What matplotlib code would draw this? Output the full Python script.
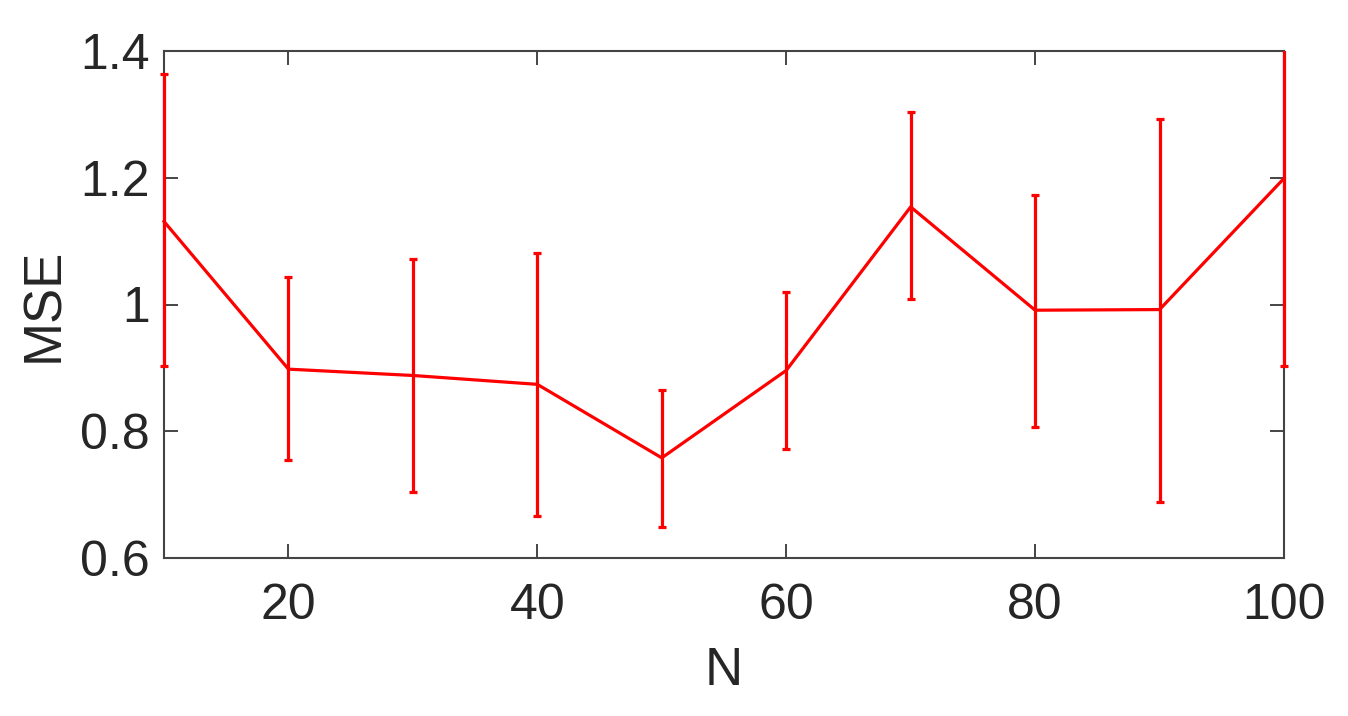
import matplotlib
matplotlib.use("Agg")
import matplotlib.pyplot as plt
from matplotlib.transforms import Bbox, TransformedBbox
import numpy as np

N = [10, 20, 30, 40, 50, 60, 70, 80, 90, 100]
mse = [1.131, 0.898, 0.888, 0.874, 0.758, 0.896, 1.154, 0.991, 0.992, 1.199]
upper = [1.363, 1.043, 1.072, 1.082, 0.865, 1.019, 1.303, 1.172, 1.293, 1.496]
lower = [0.903, 0.754, 0.704, 0.667, 0.649, 0.772, 1.009, 0.807, 0.688, 0.903]
xticks = [20, 40, 60, 80, 100]
yticks = [0.6, 0.8, 1.0, 1.2, 1.4]
yticklabels = ["0.6", "0.8", "1", "1.2", "1.4"]

plt.rcParams['font.family'] = ['Liberation Sans', 'DejaVu Sans']

fig = plt.figure(figsize=(13.48, 7.16), dpi=100)
ax = fig.add_axes([164/1348, 1-558/716, (1284-164)/1348, (558-51)/716])

m = np.array(mse)
yerr = [m - np.array(lower), np.array(upper) - m]
cont = ax.errorbar(N, mse, yerr=yerr, color='#ff0000', lw=2.3, elinewidth=2.3,
                   capsize=3, capthick=2.3, zorder=3)

clip = TransformedBbox(Bbox([[-0.01, 0.0], [1.01, 1.0]]), ax.transAxes)
line, caps, bars = cont.lines
for art in [line, *caps, *bars]:
    art.set_clip_box(clip)
    art.set_clip_on(True)
    art.set_zorder(3)

ax.set_xlim(10, 100)
ax.set_ylim(0.6, 1.4)
ax.set_xticks(xticks)
ax.set_yticks(yticks)
ax.set_yticklabels(yticklabels)
ax.tick_params(direction='in', length=10, width=1.2, colors='#262626',
               labelsize=36, top=True, right=True)
ax.tick_params(axis='x', pad=18)
ax.tick_params(axis='y', pad=10)
for s in ax.spines.values():
    s.set_color('#444444')
    s.set_linewidth(1.5)
    s.set_zorder(2.5)
ax.set_xlabel('N', fontsize=38, color='#262626', labelpad=12)
ax.set_ylabel('MSE', fontsize=38, color='#262626', labelpad=8)

fig.savefig('out.png', dpi=100, facecolor='white')
